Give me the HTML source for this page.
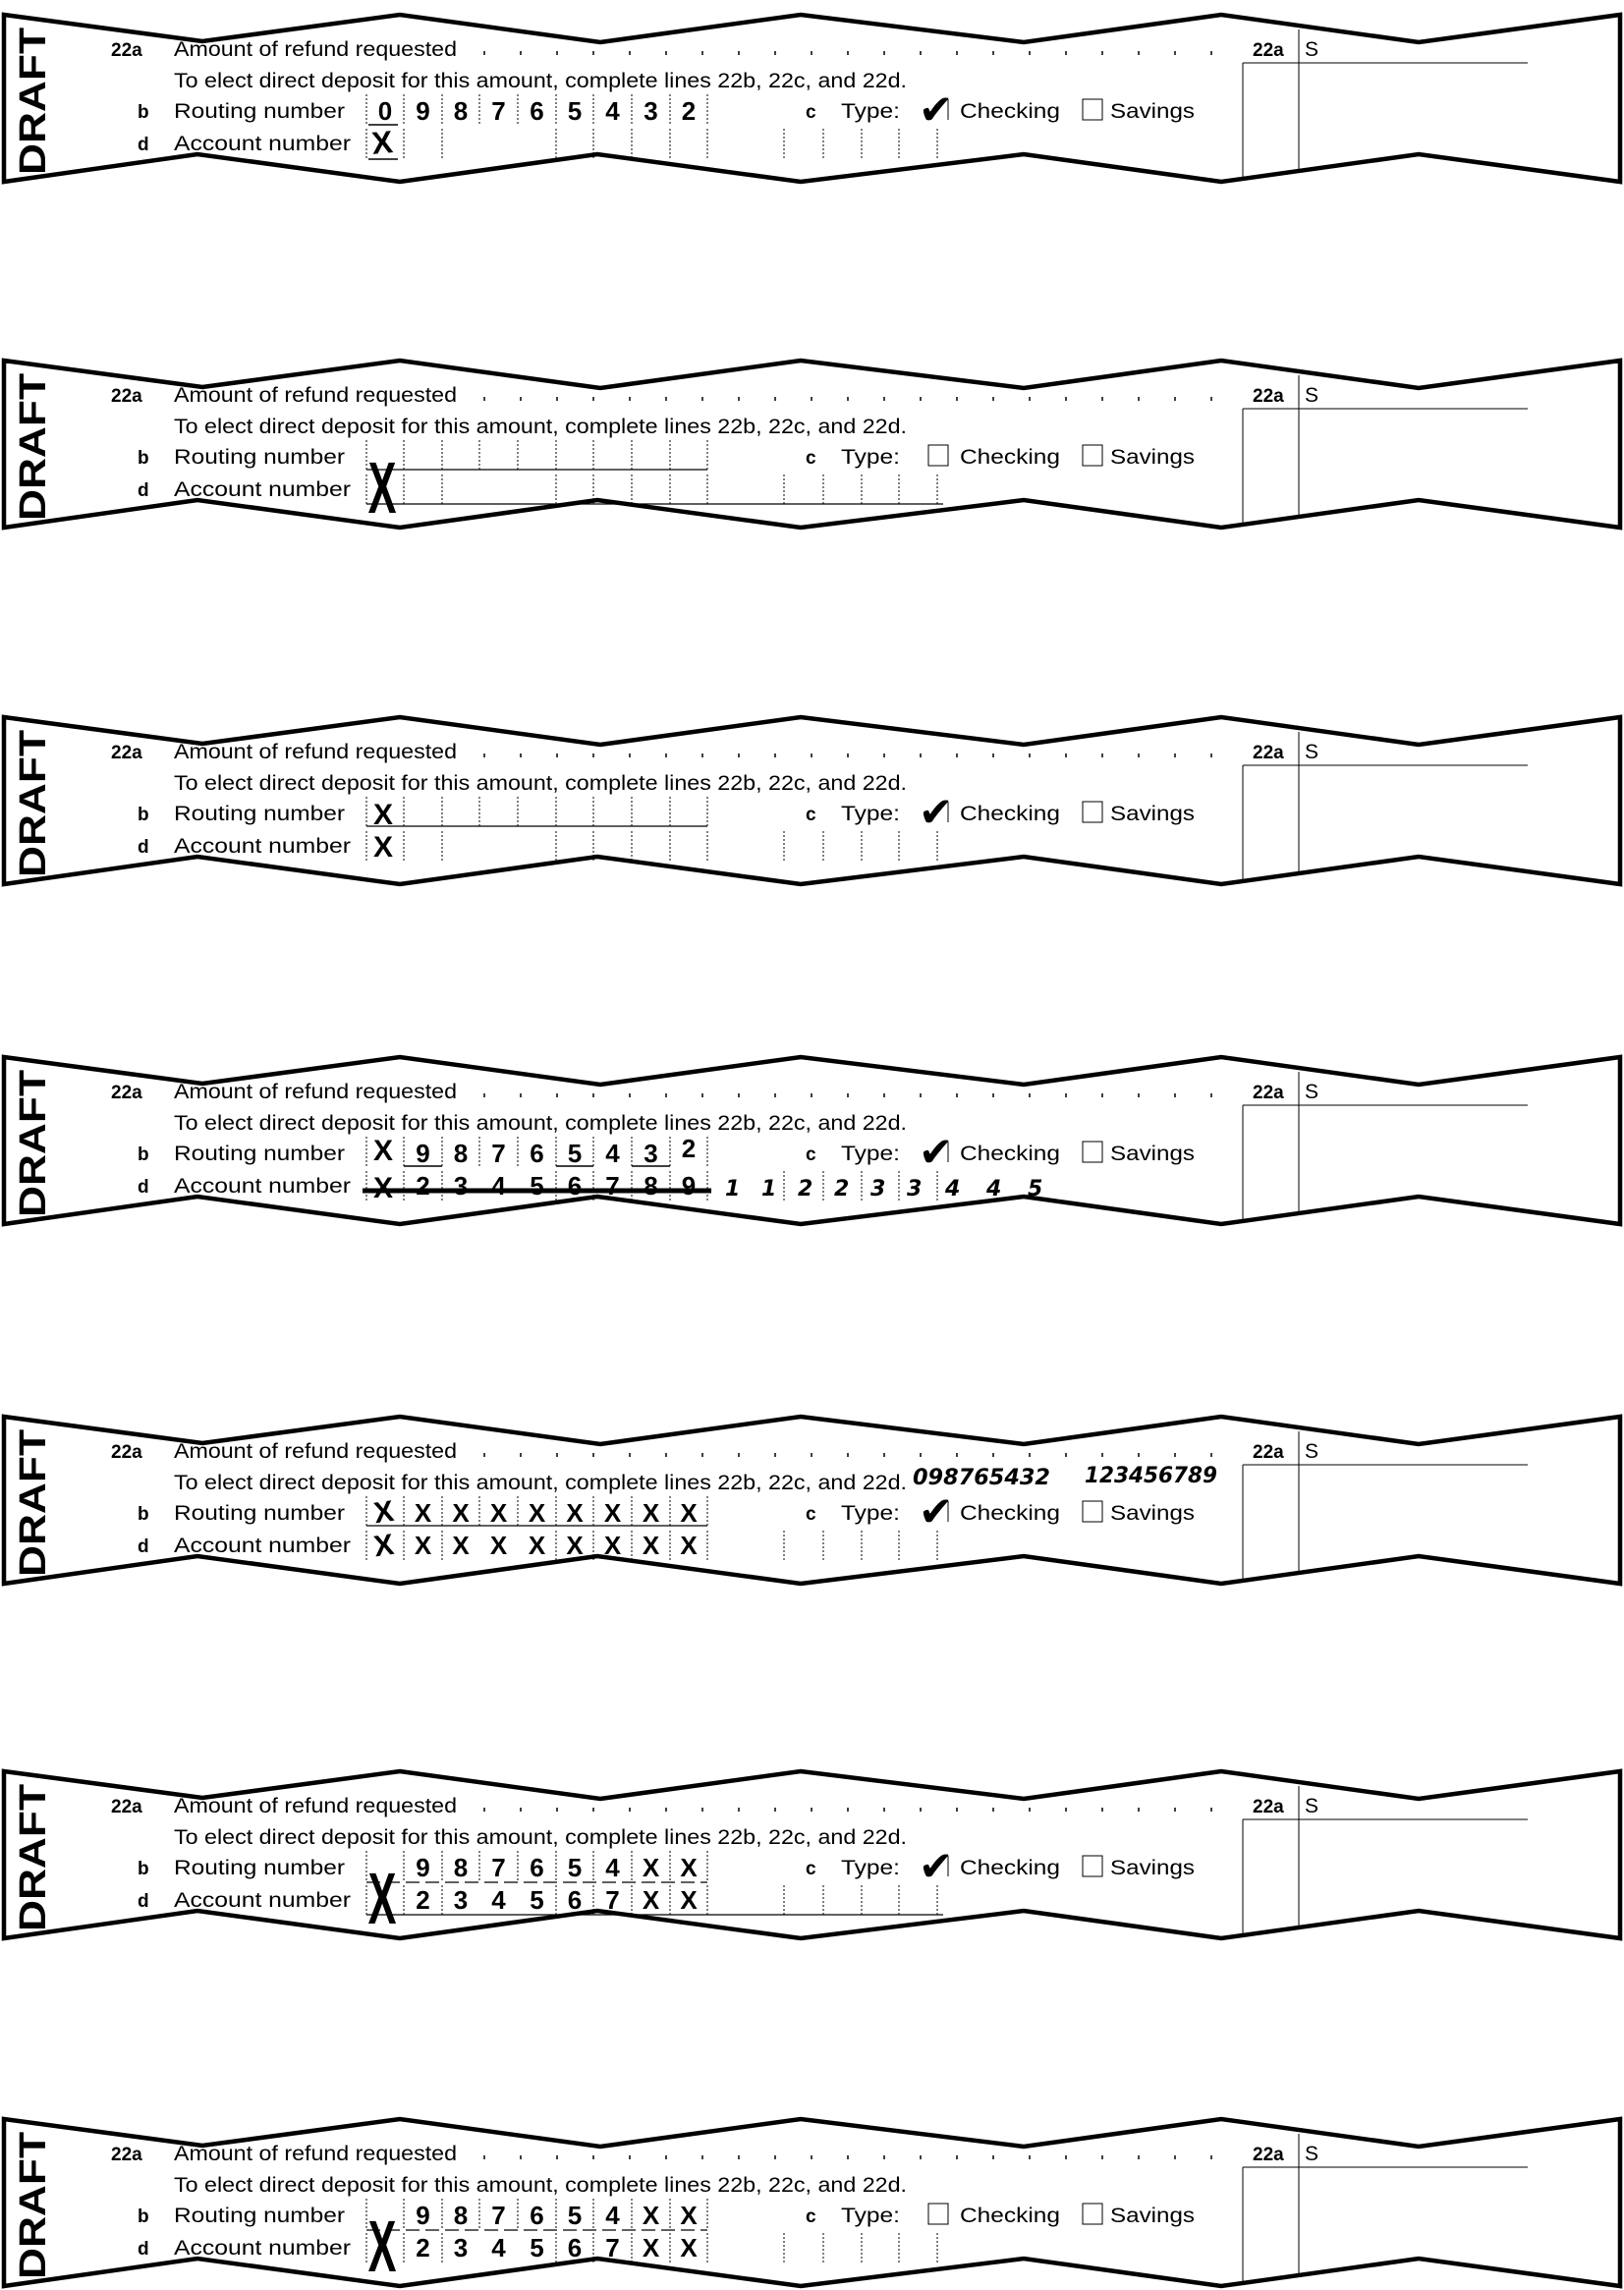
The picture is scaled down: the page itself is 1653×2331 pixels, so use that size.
<!DOCTYPE html>
<html><head><meta charset="utf-8"><style>
html,body{margin:0;padding:0;background:#fff;}
svg{display:block;}
text{font-family:"Liberation Sans",Arial,sans-serif;fill:#000;}
.t{font-size:21px;}
.b{font-size:19px;font-weight:bold;}
.d{font-size:26px;font-weight:bold;}
.h{font-family:"DejaVu Sans","Liberation Sans",sans-serif;font-style:italic;font-weight:bold;font-size:22px;}
</style></head><body>
<svg id="s" width="1653" height="2331" viewBox="0 0 1653 2331" xmlns="http://www.w3.org/2000/svg"></svg>
<script>
var S=document.getElementById('s'),out='';
var edges=[373,411,450,488,527,566,604,643,682,720];
var cent=[];for(var i=0;i<9;i++)cent.push((edges[i]+edges[i+1])/2);
function txt(x,y,c,s,extra){out+='<text x="'+x+'" y="'+y+'" class="'+c+'" '+(extra||'')+'>'+s+'</text>';}
function tw(x,y,s,w){txt(x,y,'t',s,'textLength="'+w+'" lengthAdjust="spacingAndGlyphs"');}
function line(x1,y1,x2,y2,w,da){out+='<line x1="'+x1+'" y1="'+y1+'" x2="'+x2+'" y2="'+y2+'" stroke="#000" stroke-width="'+(w||1)+'"'+(da?' stroke-dasharray="'+da+'"':'')+'/>';}
function bigX(x,y,sz,rot){out+='<text x="'+x+'" y="'+y+'" style="font-size:'+sz+'px;font-weight:bold" text-anchor="middle" transform="rotate('+(rot||0)+' '+x+' '+y+')">X</text>';}
function tallX(){out+='<text x="389" y="0" style="font-size:48px;font-weight:bold" text-anchor="middle" transform="translate(0,170) translate(389,0) scale(0.9,1.55) translate(-389,0)">X</text>';}
function check(x,y){out+='<text x="'+x+'" y="'+y+'" style="font-family:\'DejaVu Sans\',sans-serif;font-size:42px;font-weight:bold">✔</text>';}
function panel(oy,o){
 out+='<g transform="translate(0,'+oy+')">';
 var top=[[4,15],[206,42],[407,15],[611,43],[815,15],[1042,43],[1243,15],[1444,43],[1649,15]];
 var bot=[[1649,185],[1444,157],[1243,185],[1042,157],[815,185],[608,157],[407,185],[201,157],[4,185]];
 out+='<polygon points="'+top.concat(bot).map(function(p){return p.join(',')}).join(' ')+'" fill="none" stroke="#000" stroke-width="4.5" stroke-linejoin="miter"/>';
 out+='<text x="0" y="0" transform="translate(46,178) rotate(-90)" style="font-size:38px;font-weight:bold" textLength="150" lengthAdjust="spacingAndGlyphs">DRAFT</text>';
 txt(113,57,'b','22a');tw(177,57,'Amount of refund requested',288);
 for(var x=493;x<1240;x+=37)line(x,52,x,56,1.5);
 txt(1275,57,'b','22a');txt(1328,57,'t','S');
 line(1265,64,1265,182,1);line(1322,30,1322,172,1);line(1265,64,1555,64,1);
 tw(177,89,'To elect direct deposit for this amount, complete lines 22b, 22c, and 22d.',746);
 txt(140,120,'b','b');tw(177,120,'Routing number',174);
 txt(140,153,'b','d');tw(177,153,'Account number',180);
 txt(820,120,'b','c');tw(856,120,'Type:',60);
 out+='<rect x="945" y="101" width="20" height="21" fill="none" stroke="#000" stroke-width="1"/>';
 tw(977,120,'Checking',102);
 out+='<rect x="1102" y="101" width="20" height="21" fill="none" stroke="#000" stroke-width="1"/>';
 tw(1130,120,'Savings',86);
 edges.forEach(function(x){line(x,96,x,126,1,'2,2');});
 [373,411,450,566,604,643,682,720,798,838,877,915,954].forEach(function(x){line(x,131,x,161,1,'2,2');});
 if(o.ul1)line(373,126,720,126,1.2);
 if(o.ul2)line(373,161,o.ul2,161,1.2);
 if(o.checked){out+='<rect x="944" y="100" width="24" height="24" fill="#fff"/>';line(965,101,965,122,1);check(935,126);}
 if(o.r)o.r.forEach(function(c,i){if(c)txt(cent[i],122,'d',c,'text-anchor="middle"');});
 if(o.a)o.a.forEach(function(c,i){if(c)txt(cent[i],155,'d',c,'text-anchor="middle"');});
 if(o.f)o.f();
 out+='</g>';
}
panel(0,{checked:1,r:['0','9','8','7','6','5','4','3','2'],f:function(){bigX(390,156,32,-5);line(375,162,405,162,1.5);line(375,127,405,127,1.5);}});
panel(352,{ul1:1,ul2:960,f:function(){tallX();}});
panel(715,{checked:1,ul1:1,f:function(){bigX(390,124,30,0);bigX(390,157,30,0);}});
panel(1061,{checked:1,r:['','9','8','7','6','5','4','3',''],a:['','2','3','4','5','6','7','8','9'],f:function(){
 bigX(390,120,30,0);txt(701,117,'d','2','text-anchor="middle"');bigX(390,158,30,0);
 line(411,126,450,126,1.5);line(566,126,604,126,1.5);line(643,126,682,126,1.5);
 line(369,151,724,151,5);
 var hx=[738,775,812,849,886,923,962,1004,1046],hs=['1','1','2','2','3','3','4','4','5'];
 hx.forEach(function(x,i){txt(x,156,'h',hs[i]);});
 [798,838,877,915,954].forEach(function(x){line(x,131,x,161,1,'2,2');});
}});
panel(1427,{checked:1,ul1:1,r:['','X','X','X','X','X','X','X','X'],a:['','X','X','X','X','X','X','X','X'],f:function(){
 bigX(392,122,30,-8);bigX(392,156,30,-8);
 txt(929,84,'h','098765432','textLength="140" lengthAdjust="spacingAndGlyphs"');
 txt(1104,82,'h','123456789','textLength="135" lengthAdjust="spacingAndGlyphs"');
}});
panel(1788,{checked:1,ul2:960,r:['','9','8','7','6','5','4','X','X'],a:['','2','3','4','5','6','7','X','X'],f:function(){
 line(373,128,720,128,1.2,'14,6');
 tallX();
}});
panel(2142,{r:['','9','8','7','6','5','4','X','X'],a:['','2','3','4','5','6','7','X','X'],f:function(){
 line(373,128,720,128,1.2,'14,6');
 tallX();
}});
S.innerHTML=out;
</script>
</body></html>
